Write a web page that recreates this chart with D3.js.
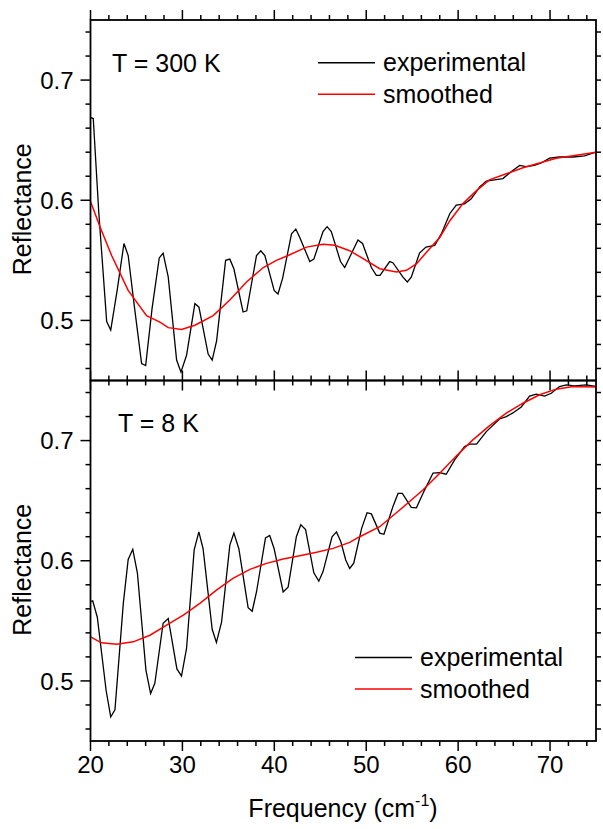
<!DOCTYPE html>
<html><head><meta charset="utf-8">
<script src="https://cdn.jsdelivr.net/npm/d3@7/dist/d3.min.js"></script>
<style>body{margin:0;background:#fff}svg{display:block;font-family:"Liberation Sans",Arial,sans-serif}</style>
</head><body><svg id="c" width="603" height="829"></svg>
<script>
// ---- data (frequency cm^-1, reflectance) ----
const exp300X = [20,20.3,20.9,21.76,22.2,22.9,23.64,24.1,24.8,25.56,26.0,26.7,27.48,27.9,28.46,29.37,29.84,30.45,31.36,31.8,32.8,33.24,33.72,34.7,35.16,35.6,36.6,37.0,38.06,38.53,38.97,39.98,40.4,40.9,41.87,42.34,42.77,43.86,44.3,45.3,45.74,46.2,47.2,47.66,49.1,49.6,50.56,51.1,51.5,52.55,52.9,54.0,54.47,54.9,55.8,56.5,57.45,58.17,59.1,59.8,60.7,61.4,62.34,63.07,63.97,64.87,65.8,66.7,67.4,68.3,69.04,69.95,71.0,72.5,73.75,75];
const exp300Y = [0.669,0.668,0.59,0.499,0.492,0.525,0.564,0.554,0.51,0.464,0.4625,0.51,0.552,0.556,0.536,0.467,0.457,0.471,0.514,0.511,0.472,0.467,0.483,0.55,0.551,0.543,0.507,0.508,0.554,0.558,0.554,0.525,0.522,0.535,0.572,0.576,0.569,0.549,0.551,0.574,0.578,0.574,0.549,0.544,0.567,0.564,0.544,0.5375,0.5375,0.549,0.548,0.536,0.532,0.536,0.556,0.561,0.5625,0.572,0.589,0.596,0.597,0.601,0.611,0.616,0.617,0.618,0.624,0.629,0.628,0.629,0.631,0.635,0.636,0.636,0.637,0.640];
const smo300X = [20,21.03,22.3,24.1,26.1,27.55,28.46,29.9,31.36,33.35,35.16,36.98,38.8,40.23,41.5,43.5,45.3,46.58,48.2,49.3,51.47,53.3,54.37,55.46,56.7,58.0,59.1,60.5,62.0,63.4,65.24,67.05,68.86,70.67,72.5,75];
const smo300Y = [0.599,0.578,0.554,0.525,0.504,0.4986,0.494,0.4925,0.496,0.504,0.517,0.532,0.544,0.55,0.554,0.561,0.5633,0.5625,0.558,0.553,0.543,0.5403,0.5417,0.547,0.558,0.569,0.583,0.597,0.608,0.617,0.622,0.627,0.631,0.635,0.637,0.640];
const exp8X = [20,20.24,20.74,21.7,22.2,22.66,23.57,24.1,24.6,25.1,26.03,26.54,27.0,27.9,28.46,29.4,29.9,30.45,31.28,31.79,32.25,33.24,33.7,34.26,35.16,35.6,36.14,37.15,37.59,38.06,39.04,39.5,39.98,40.96,41.5,42.4,42.88,43.4,44.3,44.84,45.3,46.28,46.76,47.23,47.77,48.2,48.64,49.5,50.09,50.56,51.47,51.93,52.9,53.46,53.93,54.9,55.46,56.36,57.27,58.0,58.7,59.62,60.7,61.25,62.0,63.07,64.5,65.24,65.96,66.87,67.77,68.5,69.4,70.13,71.03,71.76,72.66,73.93,75];
const exp8Y = [0.566,0.5667,0.553,0.492,0.47,0.476,0.5645,0.601,0.6095,0.59,0.509,0.4895,0.498,0.548,0.552,0.510,0.504,0.527,0.609,0.624,0.610,0.543,0.532,0.549,0.613,0.623,0.610,0.561,0.558,0.574,0.619,0.621,0.610,0.574,0.578,0.62,0.63,0.626,0.59,0.583,0.591,0.62,0.624,0.616,0.6006,0.5936,0.598,0.627,0.640,0.639,0.623,0.622,0.645,0.656,0.656,0.6445,0.644,0.659,0.673,0.6733,0.672,0.684,0.695,0.697,0.697,0.7075,0.718,0.72,0.723,0.728,0.737,0.7386,0.737,0.7394,0.745,0.7464,0.7456,0.7464,0.745];
const smo8X = [20,21.2,22.85,24.65,26.47,28.28,30.1,31.9,33.7,35.5,37.34,39.15,40.96,42.77,44.6,46.4,48.2,49.3,51.47,53.64,56.17,58.0,59.8,61.6,63.4,65.24,67.05,68.86,70.67,72.5,75];
const smo8Y = [0.5367,0.5317,0.5306,0.5325,0.538,0.5464,0.5547,0.5645,0.5756,0.5853,0.5928,0.5978,0.6014,0.6042,0.607,0.6103,0.6153,0.62,0.6283,0.6422,0.6589,0.6728,0.6872,0.7006,0.7122,0.7228,0.7311,0.7381,0.7428,0.745,0.7445];
const xMajor = [20,30,40,50,60,70];
const yMajor = [0.5,0.6,0.7];
const panelLabels = ["T = 300 K","T = 8 K"];
const legendLabels = ["experimental","smoothed"];
const xTitle = "Frequency (cm";
const yTitle = "Reflectance";

const svg = d3.select("#c");
const L = 90.5, R = 596;
const x = d3.scaleLinear().domain([20,75]).range([L,R]);
const xMinor = d3.range(20,75.01,2);
const yMinor = d3.range(0.46,0.7401,0.02).map(v=>+v.toFixed(2));

const panels = [
  {top:20, bot:380.5, ex:exp300X, ey:exp300Y, sx:smo300X, sy:smo300Y, label:panelLabels[0], lx:112, ly:72, legX:318, legY:62.7},
  {top:380.5, bot:741, ex:exp8X, ey:exp8Y, sx:smo8X, sy:smo8Y, label:panelLabels[1], lx:118, ly:432, legX:355, legY:657.5}
];

panels.forEach((p,i)=>{
  const y = d3.scaleLinear().domain([0.45,0.75]).range([p.bot,p.top]);
  const g = svg.append("g");
  const line = d3.line().x(d=>x(d[0])).y(d=>y(d[1]));
  const clipId = "clip"+i;
  svg.append("clipPath").attr("id",clipId).append("rect").attr("x",L).attr("y",p.top).attr("width",R-L).attr("height",p.bot-p.top);
  g.append("path").datum(d3.zip(p.ex,p.ey)).attr("d",line).attr("fill","none").attr("stroke","#000").attr("stroke-width",1.3).attr("clip-path",`url(#${clipId})`);
  g.append("path").datum(d3.zip(p.sx,p.sy)).attr("d",line).attr("fill","none").attr("stroke","#ff0000").attr("stroke-width",1.5).attr("clip-path",`url(#${clipId})`);

  const tk = (sel)=>sel.attr("stroke","#000").attr("stroke-width",1.5);
  const isMajX = v=>xMajor.includes(v);
  xMinor.forEach(v=>{
    const len = isMajX(v)?10:5;
    tk(g.append("line").attr("x1",x(v)).attr("x2",x(v)).attr("y1",p.top).attr("y2",p.top-len));
    tk(g.append("line").attr("x1",x(v)).attr("x2",x(v)).attr("y1",p.bot).attr("y2",p.bot+len));
  });
  yMinor.forEach(v=>{
    const len = yMajor.some(m=>Math.abs(m-v)<1e-6)?10:5;
    tk(g.append("line").attr("x1",L).attr("x2",L-len).attr("y1",y(v)).attr("y2",y(v)));
    tk(g.append("line").attr("x1",R).attr("x2",R+5).attr("y1",y(v)).attr("y2",y(v)));
  });
  g.append("rect").attr("x",L).attr("y",p.top).attr("width",R-L).attr("height",p.bot-p.top).attr("fill","none").attr("stroke","#000").attr("stroke-width",1.8);

  yMajor.forEach(v=>{
    g.append("text").attr("x",73.5).attr("y",y(v)).attr("dy","0.36em").attr("text-anchor","end").attr("font-size",24).text(v.toFixed(1));
  });
  g.append("text").attr("transform",`translate(31,${(p.top+p.bot)/2+9}) rotate(-90)`).attr("text-anchor","middle").attr("font-size",25).text(yTitle);
  g.append("text").attr("x",p.lx).attr("y",p.ly).attr("font-size",25).text(p.label);
  [["#000",0],["#ff0000",1]].forEach(([c,k])=>{
    const yy = p.legY + k*31.6;
    g.append("line").attr("x1",p.legX).attr("x2",p.legX+57).attr("y1",yy).attr("y2",yy).attr("stroke",c).attr("stroke-width",1.5);
    g.append("text").attr("x",p.legX+65).attr("y",yy+8.5).attr("font-size",25).text(legendLabels[k]);
  });
});

xMajor.forEach(v=>{
  svg.append("text").attr("x",x(v)).attr("y",773).attr("text-anchor","middle").attr("font-size",24).text(v);
});
const xt = svg.append("text").attr("x",343).attr("y",817).attr("text-anchor","middle").attr("font-size",25);
xt.append("tspan").text(xTitle);
xt.append("tspan").attr("font-size",16).attr("dy",-11).text("-1");
xt.append("tspan").attr("dy",11).text(")");
</script></body></html>
